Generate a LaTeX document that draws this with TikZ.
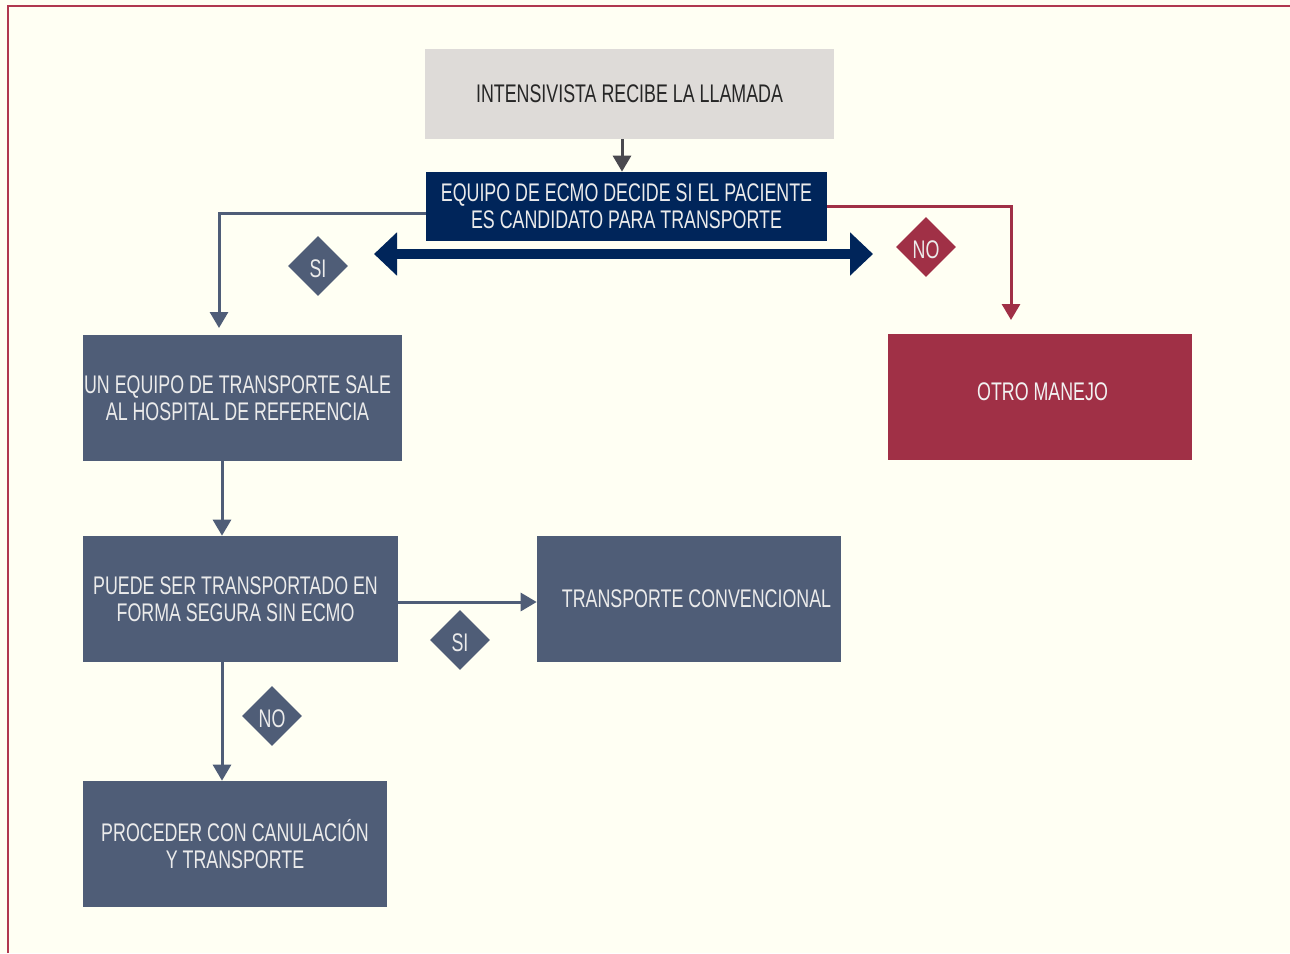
\documentclass[tikz,border=0pt]{standalone}
\usepackage{fontspec}
\setmainfont[FakeStretch=0.70]{Liberation Sans}
\usetikzlibrary{shapes.geometric}
\usetikzlibrary{arrows.meta}
\definecolor{fondo}{HTML}{FFFFF3}
\definecolor{borde}{HTML}{B0384F}
\definecolor{gris}{HTML}{DEDBD8}
\definecolor{marino}{HTML}{00255A}
\definecolor{pizarra}{HTML}{4F5D77}
\definecolor{granate}{HTML}{A03046}
\definecolor{flechagris}{HTML}{4A494F}
\tikzset{
	caja/.style = {rectangle, align=center, inner sep=0pt, text centered,
		font=\fontsize{14.5}{15.4}\selectfont},
	caja_g/.style = {caja, fill=gris, text=black!85},% caja gris
	caja_m/.style = {caja, fill=marino, text=white!92!black},% caja marino
	caja_p/.style = {caja, fill=pizarra, text=white!92!black},% caja pizarra
	caja_r/.style = {caja, fill=granate, text=white!95!black},% caja granate
	rombo/.style = {diamond, inner sep=0pt, minimum size=1.2cm,
		text height=0.48cm, text depth=0.04cm,
		text=white!92!black, font=\fontsize{14.5}{16}\selectfont},
	flecha/.style = {-{Triangle[width=0.36cm,length=0.32cm]}, line width=0.06cm}
}
\begin{document}
\begin{tikzpicture}[x=0.02cm,y=-0.02cm]
	\useasboundingbox (0,0) rectangle (1290,953);
	\fill[fondo] (0,0) rectangle (1290,953);
	\draw[borde, line width=0.05cm] (8,953) -- (8,6) -- (1290,6);
	% cajas
	\node[caja_g, minimum width=8.18cm, minimum height=1.8cm] (llamada) at (629.5,94)
		{INTENSIVISTA RECIBE LA LLAMADA};
	\node[caja_m, minimum width=8.02cm, minimum height=1.38cm] (decide) at (626.5,206.5)
		{EQUIPO DE ECMO DECIDE SI EL PACIENTE\\ES CANDIDATO PARA TRANSPORTE};
	\node[caja_p, minimum width=6.38cm, minimum height=2.52cm] (sale) at (242.5,398)
		{UN EQUIPO DE TRANSPORTE SALE\hspace*{0.2cm}\\AL HOSPITAL DE REFERENCIA\hspace*{0.2cm}};
	\node[caja_r, minimum width=6.08cm, minimum height=2.52cm] (otro) at (1040,397)
		{\raisebox{0.2cm}{\hspace*{0.1cm}OTRO MANEJO}};
	\node[caja_p, minimum width=6.3cm, minimum height=2.52cm] (seguro) at (240.5,599)
		{PUEDE SER TRANSPORTADO EN\hspace*{0.2cm}\\FORMA SEGURA SIN ECMO\hspace*{0.2cm}};
	\node[caja_p, minimum width=6.08cm, minimum height=2.52cm] (conv) at (689,599)
		{\hspace*{0.3cm}TRANSPORTE CONVENCIONAL};
	\node[caja_p, minimum width=6.08cm, minimum height=2.52cm] (canul) at (235,844)
		{PROCEDER CON CANULACIÓN\\Y TRANSPORTE};
	% rombos
	\node[rombo, fill=pizarra] (si1) at (318,266) {SI};
	\node[rombo, fill=granate] (no1) at (926,247) {NO};
	\node[rombo, fill=pizarra] (si2) at (460,640) {SI};
	\node[rombo, fill=pizarra] (no2) at (272,716) {NO};
	% conectores
	\draw[flecha, flechagris] (622,139) -- (decide.north -| 622,0);
	\draw[flecha, pizarra] (decide.west |- 0,213) -- (219,213) -- (219,328);
	\draw[flecha, granate] (decide.east |- 0,206) -- (1011,206) -- (1011,320);
	\draw[flecha, pizarra] (sale.south -| 222,0) -- (seguro.north -| 222,0);
	\draw[flecha, pizarra] (seguro.east |- 0,602) -- (conv.west |- 0,602);
	\draw[flecha, pizarra] (seguro.south -| 222,0) -- (canul.north -| 222,0);
	% flecha doble
	\coordinate (izq) at (374,254);
	\coordinate (der) at (873,254);
	\draw[marino, line width=0.2cm,
		{Triangle[width=0.84cm,length=0.46cm]}-{Triangle[width=0.84cm,length=0.46cm]}]
		(izq) -- (der);
\end{tikzpicture}
\end{document}
